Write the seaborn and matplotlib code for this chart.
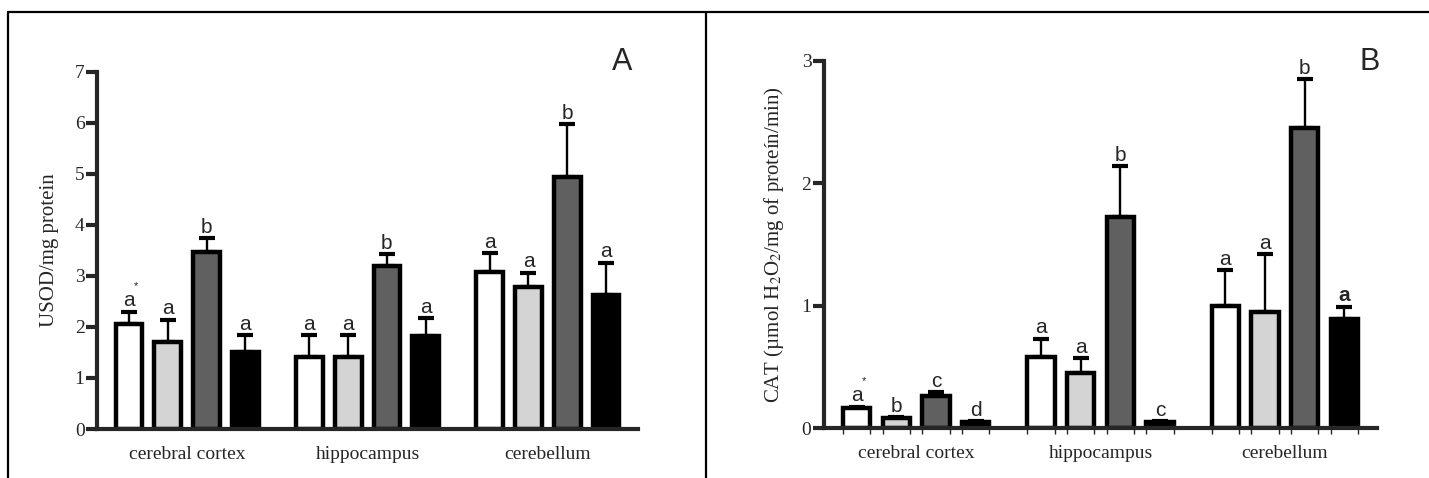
import pandas as pd
import matplotlib.pyplot as plt
import seaborn as sns
from matplotlib.lines import Line2D

sns.set_theme(style='white')
plt.rcParams['font.family'] = ['Liberation Serif', 'DejaVu Serif']
plt.rcParams['mathtext.fontset'] = 'stix'

# data, region-major order
regions = ['cerebral cortex', 'hippocampus', 'cerebellum']
groups = ['G1', 'G2', 'G3', 'G4']
colors = ['#ffffff', '#d4d4d4', '#606060', '#000000']

usod_mean = [2.06, 1.71, 3.46, 1.51,
             1.41, 1.41, 3.19, 1.83,
             3.07, 2.78, 4.94, 2.63]
usod_sem = [0.24, 0.43, 0.28, 0.33,
            0.43, 0.43, 0.24, 0.34,
            0.38, 0.28, 1.03, 0.63]
usod_letters = ['a*', 'a', 'b', 'a', 'a', 'a', 'b', 'a', 'a', 'a', 'b', 'a']

cat_mean = [0.16, 0.08, 0.26, 0.05,
            0.58, 0.45, 1.72, 0.05,
            1.00, 0.95, 2.45, 0.89]
cat_sem = [0.015, 0.01, 0.03, 0.005,
           0.15, 0.12, 0.42, 0.005,
           0.29, 0.47, 0.40, 0.10]
cat_letters = ['a*', 'b', 'c', 'd', 'a', 'a', 'b', 'c', 'a', 'a', 'b', 'a!']


def make_df(values):
    rows = []
    for i, r in enumerate(regions):
        for j, g in enumerate(groups):
            rows.append({'region': r, 'group': g, 'value': values[i * 4 + j]})
    return pd.DataFrame(rows)


def draw_panel(ax, mean, sem, letters, ymax, ylabel, edge_ticks=False):
    df = make_df(mean)
    sns.barplot(data=df, x='region', y='value', hue='group', order=regions,
                hue_order=groups, palette=colors, saturation=1, width=0.86,
                gap=0.31, edgecolor='black', linewidth=3.2, errorbar=None,
                legend=False, ax=ax)
    bars = sorted(ax.patches, key=lambda p: p.get_x())
    xs = [p.get_x() + p.get_width() / 2 for p in bars]
    hs = [p.get_height() for p in bars]
    ax.errorbar(xs, hs, yerr=[[0] * len(sem), sem], fmt='none', ecolor='black',
                elinewidth=1.7, capsize=6, capthick=3, zorder=0.5)
    for x, h, s, lab in zip(xs, hs, sem, letters):
        weight = 'normal'
        if lab.endswith('!'):
            lab, weight = lab[:-1], 'bold'
        star = lab.endswith('*')
        lab = lab.rstrip('*')
        ax.annotate(lab, (x, h + s), xytext=(0, 1), textcoords='offset points',
                    ha='center', va='bottom', fontsize=15, fontweight=weight,
                    family='Liberation Sans')
        if star:
            ax.annotate('*', (x, h + s), xytext=(5, 15), textcoords='offset points',
                        ha='center', va='bottom', fontsize=8,
                        family='Liberation Sans')

    ax.set_xlim(-0.5, 2.5)
    ax.set_ylim(0, ymax)
    ax.set_yticks(range(ymax + 1))
    ax.set_xlabel('')
    ax.set_ylabel(ylabel, fontsize=15, labelpad=11)
    sns.despine(ax=ax)
    for side in ['left', 'bottom']:
        ax.spines[side].set_linewidth(3)
    ax.tick_params(axis='y', length=8, width=3, labelsize=14, pad=1, left=True)
    ax.tick_params(axis='x', length=0, labelsize=14, pad=12)
    if edge_ticks:
        edges = []
        for p in bars:
            edges += [p.get_x(), p.get_x() + p.get_width()]
        ax.set_xticks(edges, minor=True)
        ax.tick_params(axis='x', which='minor', length=4, width=1,
                       bottom=True)


fig = plt.figure(figsize=(14.29, 4.78), dpi=100)
ax1 = fig.add_axes([0.0679, 0.1025, 0.3786, 0.7475])
ax2 = fig.add_axes([0.5766, 0.1046, 0.3870, 0.7685])

draw_panel(ax1, usod_mean, usod_sem, usod_letters, 7, 'USOD/mg protein')
draw_panel(ax2, cat_mean, cat_sem, cat_letters, 3,
           'CAT (µmol H$_2$O$_2$/mg of proteín/min)', edge_ticks=True)

# panel tags
fig.text(622 / 1429, 1 - 62 / 478, 'A', ha='center', va='center',
         fontsize=22, family='Liberation Sans')
fig.text(1370 / 1429, 1 - 62 / 478, 'B', ha='center', va='center',
         fontsize=22, family='Liberation Sans')

# panel frame lines
top = 1 - 11.7 / 478
fig.add_artist(Line2D([8 / 1429, 1], [top, top], color='black', lw=1.6))
fig.add_artist(Line2D([8 / 1429, 8 / 1429], [0, top], color='black', lw=1.6))
fig.add_artist(Line2D([706 / 1429, 706 / 1429], [0, top], color='black', lw=1.6))

fig.savefig('out.png', dpi=100)
